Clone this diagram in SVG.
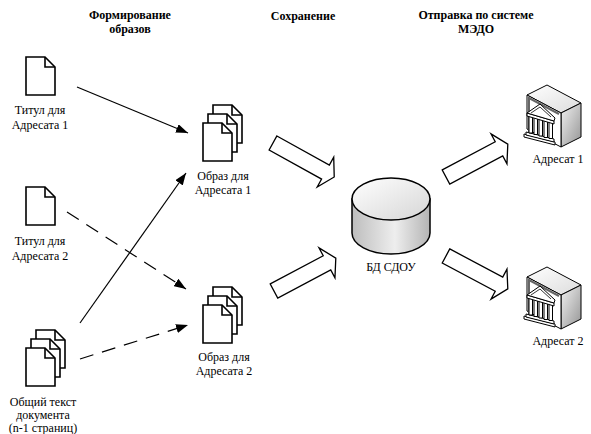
<svg xmlns="http://www.w3.org/2000/svg" xmlns:xlink="http://www.w3.org/1999/xlink" width="591" height="434" viewBox="0 0 591 434">
  <style>
    text { font-family: "Liberation Serif", "Tinos", "DejaVu Serif", serif; font-size: 12px; fill: #000; text-anchor: middle; }
    .hdr { font-weight: bold; }
    .page { fill: #fff; stroke: #000; stroke-width: 1.6; stroke-linejoin: miter; }
    .fold { fill: none; stroke: #000; stroke-width: 1.6; }
    .link { fill: none; stroke: #000; stroke-width: 1.2; }
    .dash { stroke-dasharray: 14 9; }
    .block { fill: #fff; stroke: #000; stroke-width: 1.3; stroke-linejoin: miter; }
    .edge { stroke: #000; stroke-width: 1; stroke-linejoin: round; }
  </style>
  <defs>
    <marker id="head" viewBox="0 0 12 9" refX="12" refY="4.5" markerWidth="12" markerHeight="9" orient="auto" markerUnits="userSpaceOnUse">
      <path d="M0,0 L12,4.5 L0,9 Z" fill="#000"/>
    </marker>
    <!-- single sheet with a folded corner, 29 x 38 -->
    <path id="sheet" d="M0,0 H19 L29,10 V38 H0 Z"/>
    <path id="sheetFold" d="M19,0 V10 H29"/>
    <g id="stack">
      <use xlink:href="#sheet" class="page" x="10" y="0"/>
      <use xlink:href="#sheetFold" class="fold" x="10" y="0"/>
      <use xlink:href="#sheet" class="page" x="5" y="9"/>
      <use xlink:href="#sheetFold" class="fold" x="5" y="9"/>
      <use xlink:href="#sheet" class="page" x="0" y="18"/>
      <use xlink:href="#sheetFold" class="fold" x="0" y="18"/>
    </g>
    <!-- hollow block arrow pointing along +x, length 70 -->
    <polygon id="blockArrow" points="0,-8 60,-8 60,-17 70,0 60,17 60,8 0,8"/>
    <linearGradient id="cylTop" x1="0" y1="0" x2="1" y2="1">
      <stop offset="0" stop-color="#ffffff"/>
      <stop offset="1" stop-color="#d6d6d6"/>
    </linearGradient>
    <linearGradient id="cylBody" x1="0" y1="0" x2="1" y2="0">
      <stop offset="0" stop-color="#bdbdbd"/>
      <stop offset="0.55" stop-color="#eeeeee"/>
      <stop offset="1" stop-color="#b4b4b4"/>
    </linearGradient>
    <linearGradient id="srvTop" x1="0" y1="0" x2="1" y2="1">
      <stop offset="0" stop-color="#ffffff"/>
      <stop offset="1" stop-color="#dcdcdc"/>
    </linearGradient>
    <linearGradient id="srvSide" x1="0" y1="0" x2="1" y2="1">
      <stop offset="0" stop-color="#f2f2f2"/>
      <stop offset="1" stop-color="#949494"/>
    </linearGradient>
    <!-- server box with a bank building on its front face; origin = front top-left corner -->
    <g id="server">
      <polygon class="edge" fill="url(#srvTop)" points="0,0 20,-10 54,8 34,18"/>
      <polygon class="edge" fill="url(#srvSide)" points="34,18 54,8 54,42 34,52"/>
      <polygon class="edge" fill="#fff" points="0,0 34,18 34,52 0,34"/>
      <polyline fill="none" stroke="#666" stroke-width="2" points="2,37 2,3 32,19"/>
      <!-- building -->
      <polygon class="edge" fill="#fff" points="-3,39 28,47 28,50 -3,42"/>
      <polygon class="edge" fill="#fff" points="-1,37 27,44 27,47 -1,40"/>
      <g class="edge" fill="#fff">
        <rect x="2" y="21" width="3.5" height="17"/>
        <rect x="7" y="22.5" width="3.5" height="17"/>
        <rect x="12" y="24" width="3.5" height="17"/>
        <rect x="17" y="25.5" width="3.5" height="17"/>
        <rect x="22" y="27" width="3.5" height="16.5"/>
      </g>
      <polygon class="edge" fill="#fff" points="0,18 27,26 27,29 0,21"/>
      <polygon class="edge" fill="#fff" points="0,18 13,9 28,23 27,26"/>
      <polyline fill="none" stroke="#000" stroke-width="0.8" points="4,18 13,12 24,22"/>
    </g>
  </defs>

  <!-- column headings -->
  <g id="headings">
    <text class="hdr" x="130" y="19">Формирование</text>
    <text class="hdr" x="130" y="32.5">образов</text>
    <text class="hdr" x="303" y="19.5">Сохранение</text>
    <text class="hdr" x="476" y="19">Отправка по системе</text>
    <text class="hdr" x="476" y="32.5">МЭДО</text>
  </g>

  <!-- connectors -->
  <g id="connectors">
    <line class="link" x1="77" y1="87" x2="188" y2="133" marker-end="url(#head)"/>
    <line class="link" x1="80" y1="323" x2="186" y2="173" marker-end="url(#head)"/>
    <line class="link dash" x1="67" y1="212" x2="186" y2="289" marker-end="url(#head)"/>
    <line class="link dash" x1="80" y1="359" x2="188" y2="325" marker-end="url(#head)"/>
    <use xlink:href="#blockArrow" class="block" transform="translate(273,143) rotate(29)"/>
    <use xlink:href="#blockArrow" class="block" transform="translate(274,291) rotate(-28)"/>
    <use xlink:href="#blockArrow" class="block" transform="translate(446,177) rotate(-28)"/>
    <use xlink:href="#blockArrow" class="block" transform="translate(446,256) rotate(28)"/>
  </g>

  <g id="title1">
    <use xlink:href="#sheet" class="page" x="26" y="57"/>
    <use xlink:href="#sheetFold" class="fold" x="26" y="57"/>
    <text x="40" y="114">Титул для</text>
    <text x="40" y="129">Адресата 1</text>
  </g>

  <g id="title2">
    <use xlink:href="#sheet" class="page" x="26" y="187"/>
    <use xlink:href="#sheetFold" class="fold" x="26" y="187"/>
    <text x="40" y="245">Титул для</text>
    <text x="40" y="260">Адресата 2</text>
  </g>

  <g id="common-text">
    <use xlink:href="#stack" transform="translate(26,330)"/>
    <text x="43" y="406">Общий текст</text>
    <text x="43" y="419">документа</text>
    <text x="43" y="432">(n-1 страниц)</text>
  </g>

  <g id="image1">
    <use xlink:href="#stack" transform="translate(203,105)"/>
    <text x="223" y="180">Образ для</text>
    <text x="223" y="194">Адресата 1</text>
  </g>

  <g id="image2">
    <use xlink:href="#stack" transform="translate(203,287)"/>
    <text x="224" y="361">Образ для</text>
    <text x="224" y="375">Адресата 2</text>
  </g>

  <g id="database">
    <path d="M352,199 V233 A39,21 0 0 0 430,233 V199 Z" fill="url(#cylBody)" stroke="#000" stroke-width="1.5"/>
    <ellipse cx="391" cy="199" rx="39" ry="21" fill="url(#cylTop)" stroke="#000" stroke-width="1.5"/>
    <text x="391" y="271">БД СДОУ</text>
  </g>

  <g id="recipient1">
    <use xlink:href="#server" transform="translate(527,95)"/>
    <text x="558" y="163">Адресат 1</text>
  </g>

  <g id="recipient2">
    <use xlink:href="#server" transform="translate(527,277)"/>
    <text x="558" y="345">Адресат 2</text>
  </g>
</svg>
